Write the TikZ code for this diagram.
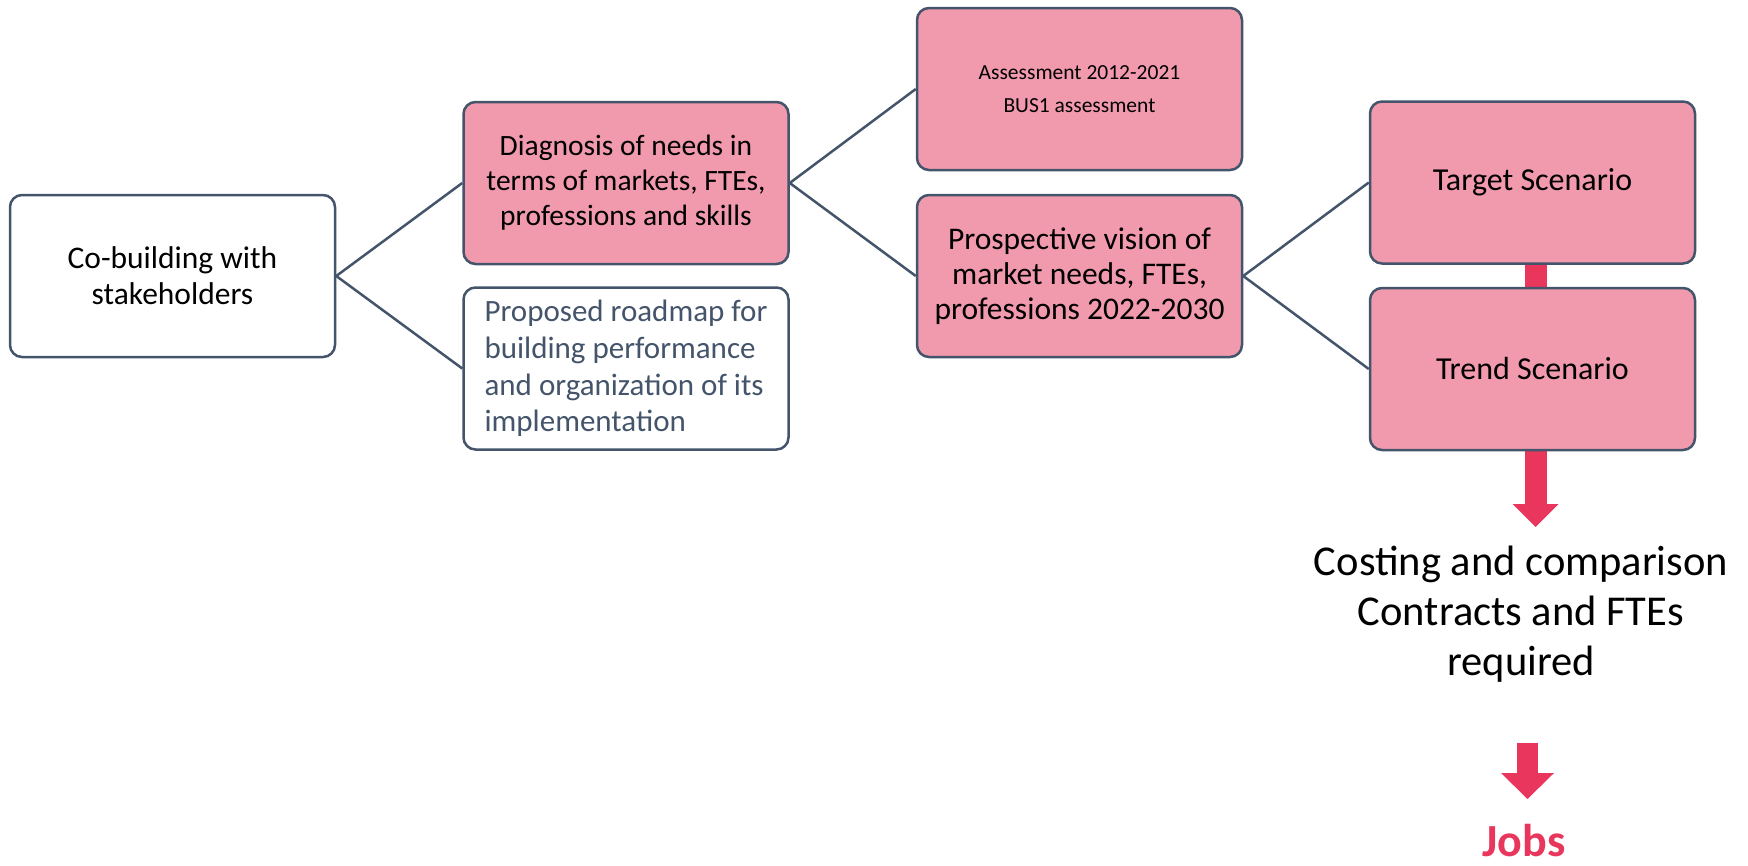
\documentclass[tikz,border=0pt]{standalone}
\usepackage{fontspec}
\setmainfont{Carlito}
\usetikzlibrary{arrows.meta}
\definecolor{boxpink}{HTML}{F19AAE}
\definecolor{boxline}{HTML}{44546A}
\definecolor{arrowred}{HTML}{E8365D}
\newcommand{\fsz}[2]{\fontsize{#1}{#2}\selectfont}

\begin{document}
\begin{tikzpicture}[x=1pt,y=-1pt,
box/.style={draw=boxline,line width=2.5pt,rounded corners=12pt,minimum width=325pt,minimum height=162pt,inner sep=0pt,align=center},
pinkbox/.style={box,fill=boxpink},
link/.style={boxline,line width=2.5pt},
bigarrow/.style={arrowred,line width=22pt,-{Triangle[width=46pt,length=23pt,line width=0pt]}}]

\useasboundingbox (0,0) rectangle (1748,865);

\node (cob) at (172.5,276) [box,font=\fsz{31.5}{36}] {Co-building with\\stakeholders};

\node (diag) at (626,183) [pinkbox,font=\fsz{29.5}{35}] {Diagnosis of needs in\\terms of markets, FTEs,\\professions and skills};
\node (road) at (626,368.5) [box,align=left,text=boxline,font=\fsz{31}{36.7}] {Proposed roadmap for\\building performance\\and organization of its\\implementation};

\node (assess) at (1079.5,89) [pinkbox,font=\fsz{21.5}{33}] {Assessment 2012-2021\\BUS1 assessment};
\node (prosp) at (1079.5,276) [pinkbox,font=\fsz{31.5}{35}] {Prospective vision of\\market needs, FTEs,\\professions 2022-2030};

\node (target) at (1532.5,182.5) [pinkbox,font=\fsz{32}{36}] {Target Scenario};

% first red arrow runs behind the trend box
\coordinate (tip1) at (1535.5,527);
\draw [bigarrow] (target.south -| tip1) -- (tip1);

\node (trend) at (1532.5,369) [pinkbox,font=\fsz{32}{36}] {Trend Scenario};

\draw [link] (cob.east) -- (diag.west);
\draw [link] (cob.east) -- (road.west);
\draw [link] (diag.east) -- (assess.west);
\draw [link] (diag.east) -- (prosp.west);
\draw [link] (prosp.east) -- (target.west);
\draw [link] (prosp.east) -- (trend.west);

\node (cost) at (1521,614) [align=center,inner sep=0pt,font=\fsz{42.5}{50}] {Costing and comparison\\Contracts and FTEs\\required};

\coordinate (tail2) at (1527.5,743);
\coordinate (tip2) at (1527.5,799);
\draw [bigarrow,line width=21pt,-{Triangle[width=53pt,length=26pt,line width=0pt]}] (tail2) -- (tip2);

\node (jobs) at (1524,856) [anchor=base,inner sep=0pt,text=arrowred,font=\fsz{46}{50}\bfseries] {Jobs};

\end{tikzpicture}
\end{document}
